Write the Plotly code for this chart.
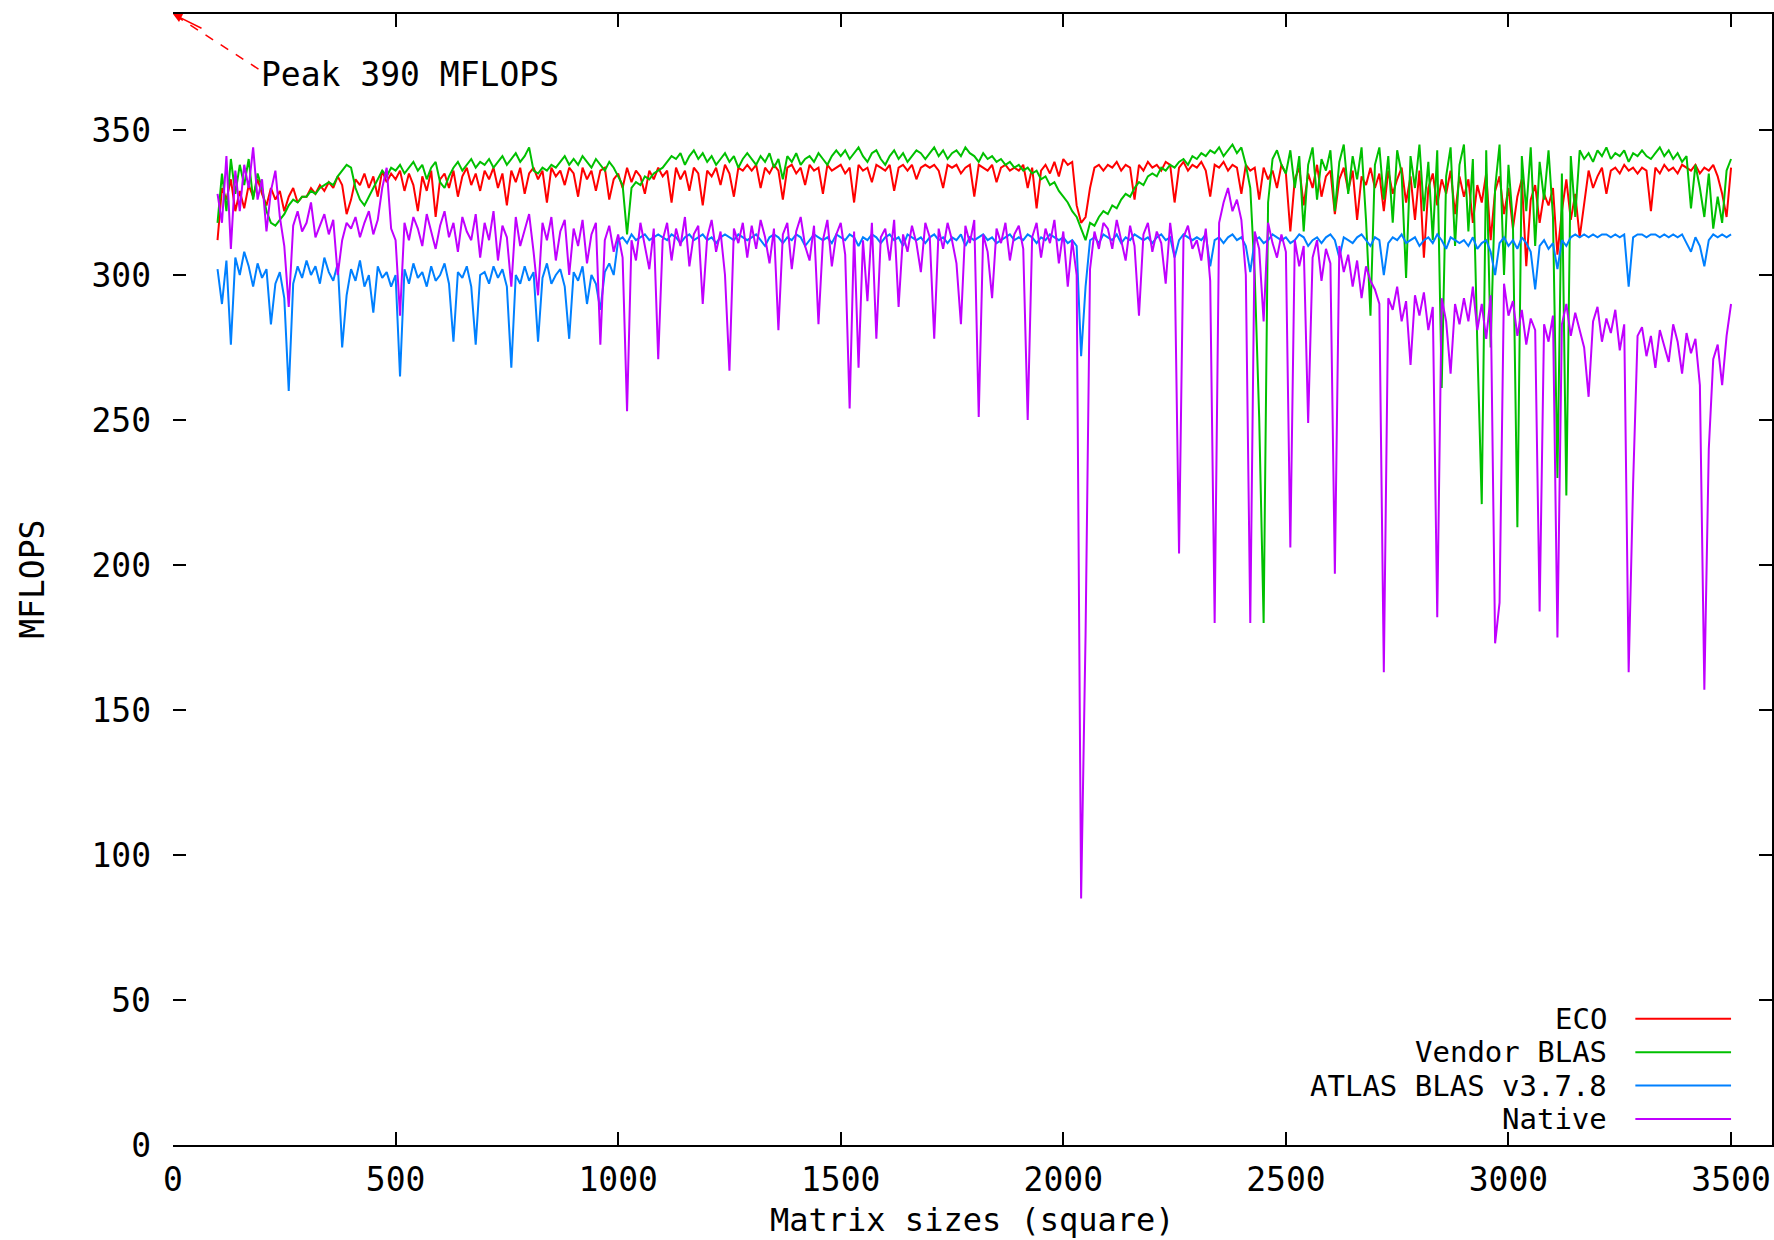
import plotly.graph_objects as go

# Matrix sizes (x) sampled every 10 from 100 to 3500
SIZES = list(range(100, 3501, 10))

ECO = [
    312, 330, 326, 333, 322, 329, 323, 331, 327, 333, 328, 324, 330, 326, 329, 322, 327, 330, 325, 327,
    327, 330, 328, 331, 329, 332, 330, 334, 331, 321, 326, 333, 331, 335, 330, 334, 327, 336, 332, 335,
    333, 336, 329, 335, 331, 322, 334, 329, 336, 320, 333, 335, 330, 336, 327, 334, 337, 331, 335, 329,
    336, 333, 337, 330, 335, 324, 336, 332, 337, 328, 335, 337, 333, 336, 325, 337, 334, 336, 331, 337,
    335, 327, 337, 333, 336, 329, 336, 337, 326, 333, 335, 330, 337, 332, 336, 334, 328, 336, 333, 337,
    334, 336, 325, 337, 333, 336, 329, 337, 335, 324, 336, 334, 337, 331, 338, 335, 327, 337, 336, 338,
    336, 338, 330, 337, 335, 338, 336, 326, 337, 338, 335, 337, 331, 338, 336, 337, 328, 338, 336, 337,
    338, 335, 337, 325, 338, 336, 337, 332, 338, 337, 336, 338, 329, 337, 338, 336, 338, 333, 337, 338,
    337, 338, 336, 330, 338, 337, 338, 335, 337, 338, 327, 338, 337, 336, 338, 332, 337, 338, 336, 337,
    336, 338, 330, 337, 323, 336, 338, 335, 339, 334, 340, 338, 339, 324, 318, 320, 330, 337, 338, 336,
    338, 337, 339, 336, 338, 337, 326, 338, 336, 339, 337, 338, 336, 339, 338, 325, 337, 339, 336, 338,
    337, 339, 336, 327, 338, 337, 339, 336, 338, 337, 328, 338, 336, 337, 326, 337, 333, 336, 330, 338,
    335, 315, 333, 337, 324, 335, 330, 338, 327, 334, 336, 321, 333, 337, 329, 336, 319, 334, 331, 337,
    330, 335, 322, 336, 328, 333, 337, 325, 334, 319, 336, 306, 330, 335, 324, 333, 328, 336, 321, 334,
    327, 333, 318, 331, 325, 335, 312, 329, 334, 321, 330, 316, 327, 333, 303, 326, 331, 318, 328, 324,
    330, 307, 322, 333, 319, 328, 313, 325, 336, 330, 334, 337, 328, 336, 337, 335, 338, 336, 337, 335,
    337, 336, 322, 337, 335, 338, 336, 337, 335, 338, 337, 336, 338, 335, 337, 336, 338, 334, 328, 320,
    337,
]

VENDOR = [
    318, 335, 322, 340, 328, 338, 331, 340, 326, 335, 330, 322, 318, 317, 319, 321, 324, 326, 325, 327,
    327, 329, 328, 330, 331, 332, 331, 334, 336, 338, 337, 330, 326, 324, 327, 330, 333, 336, 334, 337,
    336, 338, 335, 337, 339, 336, 338, 333, 337, 339, 332, 330, 334, 337, 339, 336, 338, 340, 337, 339,
    338, 340, 337, 339, 341, 338, 340, 342, 339, 341, 344, 336, 335, 337, 336, 338, 337, 339, 341, 338,
    340, 338, 341, 339, 337, 340, 338, 336, 339, 337, 334, 331, 314, 330, 332, 331, 334, 333, 335, 336,
    337, 339, 341, 340, 342, 338, 341, 343, 340, 342, 339, 341, 338, 340, 342, 339, 341, 337, 340, 342,
    340, 338, 341, 339, 342, 337, 340, 333, 341, 339, 342, 338, 340, 341, 339, 342, 340, 338, 341, 343,
    341, 343, 340, 342, 344, 341, 339, 342, 343, 340, 338, 341, 343, 340, 342, 339, 341, 343, 342, 340,
    342, 344, 341, 343, 340, 342, 343, 341, 344, 342, 341, 339, 342, 340, 341, 339, 340, 338, 339, 337,
    338, 336, 337, 335, 336, 333, 334, 331, 332, 329, 327, 325, 322, 320, 316, 312, 318, 317, 320, 322,
    321, 324, 323, 326, 328, 327, 330, 332, 331, 334, 335, 334, 337, 336, 338, 337, 339, 340, 338, 341,
    340, 342, 341, 343, 342, 344, 341, 343, 345, 342, 344, 338, 330, 300, 251, 180, 325, 340, 343, 338,
    335, 343, 330, 341, 315, 338, 344, 326, 340, 336, 343, 322, 339, 345, 328, 341, 333, 344, 319, 286,
    338, 344, 326, 341, 318, 343, 335, 299, 341, 330, 345, 322, 339, 312, 343, 261, 334, 344, 310, 338,
    345, 315, 340, 276, 221, 343, 275, 330, 345, 300, 338, 318, 213, 341, 322, 344, 310, 339, 326, 343,
    320, 230, 335, 224, 341, 320, 343, 340, 342, 339, 343, 341, 344, 340, 342, 341, 343, 339, 342, 341,
    343, 341, 340, 342, 344, 341, 343, 340, 342, 339, 341, 323, 338, 330, 320, 335, 316, 327, 318, 336,
    340,
]

ATLAS = [
    302, 290, 305, 276, 306, 300, 308, 303, 296, 304, 299, 302, 283, 297, 301, 292, 260, 297, 303, 299,
    305, 300, 303, 297, 306, 301, 298, 304, 275, 293, 302, 298, 305, 296, 300, 287, 303, 299, 301, 296,
    300, 265, 302, 297, 304, 299, 301, 296, 303, 298, 300, 304, 297, 277, 301, 299, 303, 296, 276, 300,
    301, 297, 303, 299, 302, 296, 268, 300, 297, 303, 298, 301, 277, 299, 304, 297, 300, 302, 296, 278,
    301, 298, 303, 290, 300, 297, 288, 301, 304, 300, 312, 313, 311, 314, 312, 313, 314, 312, 313, 314,
    313, 312, 314, 313, 311, 313, 314, 312, 313, 314, 312, 313, 311, 313, 314, 313, 312, 314, 313, 312,
    313, 314, 312, 310, 313, 314, 313, 311, 313, 312, 314, 313, 310, 312, 314, 313, 312, 313, 311, 314,
    313, 312, 314, 313, 310, 313, 312, 314, 313, 311, 313, 314, 312, 313, 310, 314, 313, 312, 313, 311,
    313, 314, 312, 313, 311, 313, 312, 314, 310, 313, 312, 313, 314, 312, 313, 311, 312, 313, 314, 312,
    313, 312, 314, 313, 311, 313, 312, 314, 313, 312, 313, 311, 312, 310, 272, 296, 312, 313, 311, 314,
    313, 312, 314, 311, 313, 312, 314, 313, 312, 313, 311, 313, 314, 312, 313, 306, 312, 314, 313, 312,
    313, 312, 314, 303, 312, 313, 311, 313, 314, 312, 313, 310, 301, 312, 313, 311, 312, 314, 313, 312,
    313, 311, 312, 314, 313, 310, 312, 313, 311, 313, 314, 312, 306, 313, 312, 311, 313, 314, 312, 310,
    313, 312, 300, 311, 313, 312, 314, 311, 312, 313, 310, 312, 313, 311, 314, 312, 309, 313, 312, 311,
    312, 310, 313, 309, 311, 312, 308, 300, 311, 313, 310, 312, 309, 313, 311, 308, 295, 310, 312, 309,
    311, 302, 312, 310, 313, 314, 313, 314, 313, 314, 313, 314, 314, 313, 314, 313, 314, 296, 313, 314,
    314, 313, 314, 314, 313, 314, 313, 314, 313, 314, 311, 308, 313, 310, 303, 312, 314, 313, 314, 313,
    314,
]

NATIVE = [
    328, 318, 341, 309, 336, 322, 338, 330, 344, 326, 333, 315, 329, 336, 320, 310, 289, 317, 322, 315,
    318, 325, 313, 317, 321, 314, 319, 300, 312, 318, 316, 320, 313, 318, 322, 314, 319, 330, 337, 316,
    312, 286, 318, 312, 320, 316, 310, 321, 315, 309, 317, 322, 313, 318, 308, 320, 315, 312, 321, 306,
    318, 312, 322, 305, 317, 313, 296, 320, 310, 316, 321, 308, 293, 318, 312, 320, 305, 315, 319, 300,
    316, 310, 319, 304, 314, 318, 276, 312, 317, 308, 314, 306, 253, 312, 305, 318, 310, 302, 316, 271,
    312, 318, 305, 316, 310, 320, 303, 314, 317, 290, 313, 319, 308, 315, 300, 267, 316, 311, 318, 306,
    317, 309, 319, 313, 304, 316, 281, 314, 318, 302, 315, 320, 310, 305, 317, 283, 312, 319, 303, 314,
    318, 307, 254, 315, 268, 312, 291, 318, 278, 313, 316, 305, 319, 289, 314, 308, 317, 311, 301, 318,
    313, 278, 316, 309, 318, 312, 304, 283, 317, 311, 319, 251, 314, 308, 292, 316, 311, 318, 305, 314,
    317, 309, 250, 313, 318, 306, 316, 311, 319, 304, 315, 296, 312, 300, 85, 176, 302, 315, 309, 318,
    316, 309, 319, 312, 305, 317, 310, 286, 314, 318, 308, 315, 311, 297, 318, 306, 204, 313, 317, 309,
    312, 305, 316, 298, 180, 318, 325, 330, 322, 326, 319, 300, 180, 315, 309, 284, 318, 311, 306, 314,
    308, 206, 312, 303, 310, 249, 306, 312, 298, 309, 304, 197, 310, 301, 307, 296, 305, 292, 303, 298,
    295, 290, 163, 292, 288, 296, 284, 291, 269, 293, 286, 294, 281, 289, 182, 292, 284, 266, 290, 283,
    292, 284, 296, 281, 290, 278, 293, 173, 187, 297, 286, 291, 279, 288, 276, 285, 281, 184, 283, 277,
    286, 175, 283, 290, 279, 287, 281, 275, 258, 284, 289, 277, 285, 280, 288, 274, 283, 163, 228, 279,
    282, 272, 279, 268, 281, 275, 270, 283, 277, 266, 280, 273, 278, 262, 157, 240, 271, 276, 262, 279,
    290,
]

SERIES_NAMES = ["ECO", "Vendor BLAS", "ATLAS BLAS v3.7.8", "Native"]
SERIES_COLORS = ["#ff0000", "#00c000", "#0080ff", "#c000ff"]
X_TICKS = [0, 500, 1000, 1500, 2000, 2500, 3000, 3500]
Y_TICKS = [0, 50, 100, 150, 200, 250, 300, 350]
X_TITLE = "Matrix sizes (square)"
Y_TITLE = "MFLOPS"
PEAK_TEXT = "Peak 390 MFLOPS"
PEAK_VALUE = 390

FONT = "DejaVu Sans Mono"
FSIZE = 33
KEY_FSIZE = 29

fig = go.Figure()
for name, vals, col in zip(SERIES_NAMES, [ECO, VENDOR, ATLAS, NATIVE], SERIES_COLORS):
    fig.add_trace(go.Scatter(x=SIZES, y=vals, mode="lines", name=name,
                             line=dict(color=col, width=2), showlegend=False,
                             hoverinfo="skip"))
# empty trace to anchor the mirrored right axis
fig.add_trace(go.Scatter(x=[], y=[], yaxis="y2", showlegend=False, hoverinfo="skip"))

tickfont = dict(family=FONT, size=FSIZE, color="black")

fig.update_layout(
    width=1774, height=1240,
    margin=dict(l=173, r=2, t=14, b=95),
    paper_bgcolor="white", plot_bgcolor="white",
    font=dict(family=FONT, size=FSIZE, color="black"),
    xaxis=dict(range=[0, 3592], tickvals=X_TICKS, ticks="inside", ticklen=13, tickwidth=2,
               tickcolor="black", showline=True, linecolor="black", linewidth=2,
               mirror="ticks", showgrid=False, zeroline=False, tickfont=tickfont,
               ticklabelstandoff=4),
    yaxis=dict(range=[0, 390], tickvals=Y_TICKS, ticks="inside", ticklen=13, tickwidth=2,
               tickcolor="black", showline=False, showgrid=False, zeroline=False,
               tickfont=tickfont, ticklabelstandoff=21),
    yaxis2=dict(range=[0, 390], tickvals=Y_TICKS, overlaying="y", side="right",
                ticks="inside", ticklen=13, tickwidth=2, tickcolor="black",
                showline=True, linecolor="black", linewidth=2, showticklabels=False,
                showgrid=False, zeroline=False),
)

# axis titles
fig.add_annotation(text=X_TITLE, xref="paper", yref="paper", x=0.5, y=-0.066,
                   xanchor="center", yanchor="middle", showarrow=False,
                   font=dict(family=FONT, size=32, color="black"))
fig.add_annotation(text=Y_TITLE, xref="paper", yref="paper", x=-0.088, y=0.5,
                   xanchor="center", yanchor="middle", textangle=-90, showarrow=False,
                   font=dict(family=FONT, size=FSIZE, color="black"))

# peak label with dashed red arrow
fig.add_annotation(text=PEAK_TEXT, x=193, y=369, xref="x", yref="y",
                   xanchor="left", yanchor="middle", showarrow=False,
                   font=dict(family=FONT, size=FSIZE, color="black"))
fig.add_shape(type="line", xref="x", yref="y", x0=192, y0=371, x1=0, y1=PEAK_VALUE,
              line=dict(color="#ff0000", width=1.5, dash="dash"))
fig.add_annotation(text="", x=0, y=PEAK_VALUE, xref="x", yref="y", ax=30, ay=15,
                   showarrow=True, arrowhead=2, arrowsize=1.2, arrowwidth=1.5,
                   arrowcolor="#ff0000")

# custom gnuplot-style key (text right-aligned, sample line to the right)
key_rows = [43.5, 32.0, 20.5, 9.0]
for name, col, ry in zip(SERIES_NAMES, SERIES_COLORS, key_rows):
    fig.add_annotation(text=name, x=3226, y=ry, xref="x", yref="y",
                       xanchor="right", yanchor="middle", showarrow=False,
                       font=dict(family=FONT, size=KEY_FSIZE, color="black"))
    fig.add_shape(type="line", xref="x", yref="y", x0=3285, x1=3500, y0=ry, y1=ry,
                  line=dict(color=col, width=2))

fig.write_html("out.html", config={"displayModeBar": False},
               post_script="document.body.style.margin='0';")
